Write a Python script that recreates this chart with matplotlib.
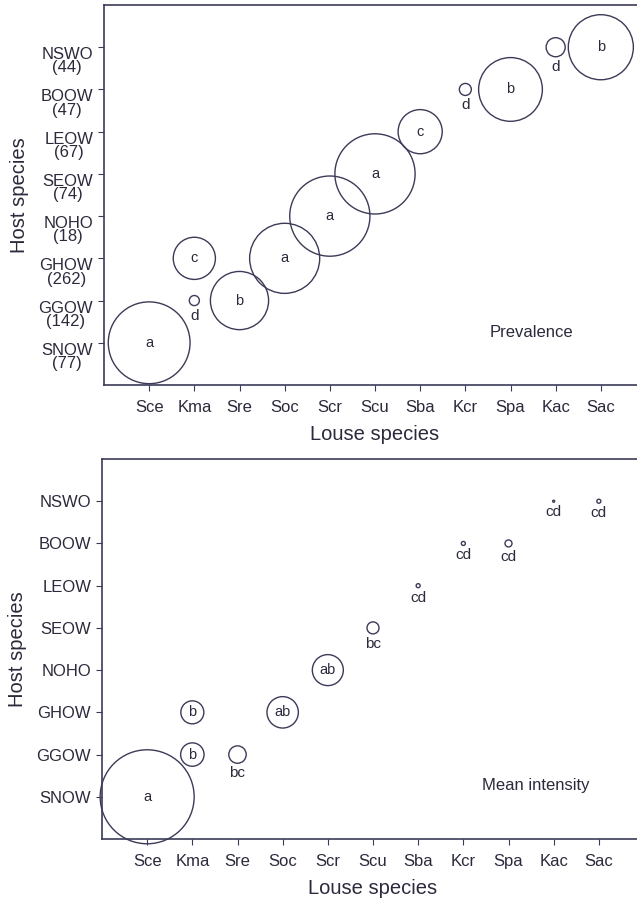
import matplotlib
matplotlib.use("Agg")
import matplotlib.pyplot as plt
from matplotlib.transforms import ScaledTranslation
import numpy as np

plt.rcParams['font.family'] = ['Liberation Sans', 'DejaVu Sans']

# categories
louse = ['Sce', 'Kma', 'Sre', 'Soc', 'Scr', 'Scu', 'Sba', 'Kcr', 'Spa', 'Kac', 'Sac']
hosts = ['SNOW', 'GGOW', 'GHOW', 'NOHO', 'SEOW', 'LEOW', 'BOOW', 'NSWO']
host_n = [77, 142, 262, 18, 74, 67, 47, 44]

# one entry per louse/host association
pt_louse = ['Sce', 'Kma', 'Kma', 'Sre', 'Soc', 'Scr', 'Scu', 'Sba', 'Kcr', 'Spa', 'Kac', 'Sac']
pt_host = ['SNOW', 'GGOW', 'GHOW', 'GGOW', 'GHOW', 'NOHO', 'SEOW', 'LEOW', 'BOOW', 'BOOW', 'NSWO', 'NSWO']
prevalence = [79, 1.2, 21, 40, 58, 76, 76, 23, 1.7, 48, 4.3, 50]        # %
intensity = [47, 11.7, 11.5, 8.7, 15.7, 15.5, 6, 2, 2, 3.5, 1, 2]       # lice / host
prev_grp = ['a', 'd', 'c', 'b', 'a', 'a', 'a', 'c', 'd', 'b', 'd', 'b']
int_grp = ['a', 'b', 'b', 'bc', 'ab', 'ab', 'bc', 'cd', 'cd', 'cd', 'cd', 'cd']

ink = '#3b3b58'
txt = '#2a2a3c'

fig = plt.figure(figsize=(6.37, 9), dpi=100)
px = 72.0 / fig.dpi  # points per pixel

xs = np.array([louse.index(l) + 1 for l in pt_louse])
ys = np.array([hosts.index(h) + 1 for h in pt_host])


def panel(rect, radii, groups, title, tpos, two_line):
    ax = fig.add_axes(rect)
    ax.patch.set_edgecolor('none')
    ax.scatter(xs, ys, s=(2 * radii * px) ** 2, facecolors='none',
               edgecolors=ink, linewidths=1.0, clip_on=False, zorder=3)
    for x, y, r, g in zip(xs, ys, radii, groups):
        if r >= 10:
            ax.text(x, y, g, ha='center', va='center', fontsize=10.5, color=txt)
        else:
            ax.annotate(g, (x, y), xytext=(0, -(r + 10) * px), textcoords='offset points',
                        ha='center', va='center', fontsize=11, color=txt)
    ax.set_xlim(0, 12)
    ax.set_ylim(0, 9)
    ax.set_xticks(range(1, len(louse) + 1))
    ax.set_xticklabels(louse)
    ax.set_yticks(range(1, len(hosts) + 1))
    if two_line:
        ax.set_yticklabels([f'{h}\n({n})' for h, n in zip(hosts, host_n)])
        for lab in ax.get_yticklabels():
            lab.set_va('top')
            lab.set_multialignment('center')
            lab.set_linespacing(0.85)
            lab.set_transform(lab.get_transform() +
                              ScaledTranslation(0, 9 / 100, fig.dpi_scale_trans))
    else:
        ax.set_yticklabels(hosts)
    ax.tick_params(direction='out', length=4.3, width=0.8, color=ink,
                   labelsize=12, labelcolor=txt)
    ax.tick_params(axis='x', pad=6.5)
    ax.tick_params(axis='y', pad=3.5)
    ax.spines['right'].set_visible(False)
    for s in ax.spines.values():
        s.set_color(ink)
        s.set_linewidth(1.2)
    ax.set_xlabel('Louse species', fontsize=14.5, color=txt, labelpad=7)
    ax.set_ylabel('Host species', fontsize=14.5, color=txt, labelpad=7)
    ax.text(tpos[0], tpos[1], title, ha='center', va='center', fontsize=12, color=txt)
    return ax


# prevalence: bubble area ~ prevalence
prev_r = 4.6 * np.sqrt(np.array(prevalence))
panel([104 / 637, 1 - 385 / 900, 542 / 637, 380 / 900], prev_r, prev_grp,
      'Prevalence', (9.47, 1.24), True)

# mean intensity
int_r = np.array(intensity, dtype=float)
panel([102 / 637, 1 - 839 / 900, 542 / 637, 380 / 900], int_r, int_grp,
      'Mean intensity', (9.6, 1.27), False)

fig.savefig('out.png', dpi=100)
